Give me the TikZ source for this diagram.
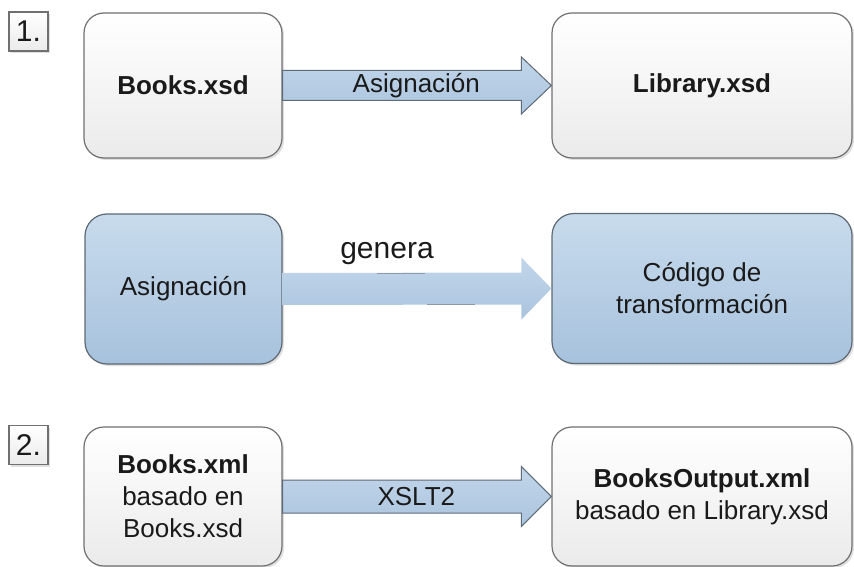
\documentclass[tikz,border=0pt]{standalone}
\usepackage{fontspec}
\setmainfont{Liberation Sans}
\usetikzlibrary{calc,shadows}
\definecolor{txt}{HTML}{1A1A1A}
\definecolor{wborder}{HTML}{707070}
\definecolor{bborder}{HTML}{5E6873}
\definecolor{btop}{HTML}{C8DBEC}
\definecolor{bbot}{HTML}{A7C2DD}
\definecolor{atop}{HTML}{C2D6EA}
\definecolor{abot}{HTML}{AAC4DE}
\definecolor{aline}{HTML}{5F6B77}
\definecolor{frag}{HTML}{8C9AA8}
\tikzset{
  every node/.style={font=\fontsize{26}{32}\selectfont, text=txt},
  shad/.style={drop shadow={opacity=0.25, shadow xshift=2pt, shadow yshift=-2pt}},
  wbox/.style={draw=wborder, line width=1.2pt, rounded corners=20pt, shading=axis,
    top color=white, bottom color=black!8, shad, align=center, inner sep=0pt},
  bbox/.style={draw=bborder, line width=1.2pt, rounded corners=22pt, shading=axis,
    top color=btop, bottom color=bbot, shad, align=center, inner sep=0pt},
  numbox/.style={draw=wborder, line width=1.2pt, shading=axis, top color=white,
    bottom color=black!8, shad, minimum width=39pt, minimum height=39pt, inner sep=0pt,
    font=\fontsize{30}{32}\selectfont},
  blockarrow/.style={draw=aline, line width=1pt, shading=axis, top color=atop,
    bottom color=abot, line join=miter},
  blockarrownl/.style={shading=axis, top color=atop, bottom color=abot},
  fragline/.style={draw=frag, line width=1.2pt},
}
\begin{document}
\begin{tikzpicture}[x=1pt,y=-1pt]
\useasboundingbox (0,0) rectangle (854,567);
% row 1
\node[numbox] (n1) at (28.5,31.5) {1.};
\node[wbox, minimum width=198pt, minimum height=145pt] (bxsd) at (183,85.5) {\bfseries Books.xsd};
\node[wbox, minimum width=300pt, minimum height=145pt] (lxsd) at (702,85.5) {\bfseries Library.xsd};
\path[blockarrow] ($(bxsd.east)+(0,-15)$) -- ($(lxsd.west)+(-30,-15)$) -- ($(lxsd.west)+(-30,-28.5)$)
  -- (lxsd.west) -- ($(lxsd.west)+(-30,28.5)$) -- ($(lxsd.west)+(-30,15)$) -- ($(bxsd.east)+(0,15)$) -- cycle;
\path (bxsd.east) -- ($(lxsd.west)+(-30,0)$) node[pos=0.56] (a1) {Asignación};
% row 2
\node[bbox, minimum width=197pt, minimum height=150pt] (asig) at (183.5,289) {Asignación};
\node[bbox, minimum width=300pt, minimum height=150pt] (code) at (702,288.5) {Código de\\transformación};
\path[blockarrownl] ($(asig.east)+(0,-16)$) -- ($(code.west)+(-30,-16)$) -- ($(code.west)+(-30,-31)$)
  -- (code.west) -- ($(code.west)+(-30,31)$) -- ($(code.west)+(-30,16)$) -- ($(asig.east)+(0,16)$) -- cycle;
\coordinate (f1a) at (377,273.5);
\coordinate (f1b) at (425,273.5);
\coordinate (f2a) at (427,304.5);
\coordinate (f2b) at (475,304.5);
\draw[fragline] (f1a) -- (f1b);
\draw[fragline] (f2a) -- (f2b);
\node[anchor=base, font=\fontsize{30}{32}\selectfont] (gen) at (387,258) {genera};
% row 3
\node[numbox] (n2) at (28.5,445) {2.};
\node[wbox, minimum width=198pt, minimum height=139pt] (bxml) at (183,496.5) {{\bfseries Books.xml}\\basado en\\Books.xsd};
\node[wbox, minimum width=300pt, minimum height=139pt] (bout) at (702,496.5) {{\bfseries BooksOutput.xml}\\basado en Library.xsd};
\path[blockarrow] ($(bxml.east)+(0,-16.5)$) -- ($(bout.west)+(-30,-16.5)$) -- ($(bout.west)+(-30,-30)$)
  -- (bout.west) -- ($(bout.west)+(-30,30)$) -- ($(bout.west)+(-30,16.5)$) -- ($(bxml.east)+(0,16.5)$) -- cycle;
\path (bxml.east) -- ($(bout.west)+(-30,0)$) node[pos=0.56] (a3) {XSLT2};
\end{tikzpicture}
\end{document}
